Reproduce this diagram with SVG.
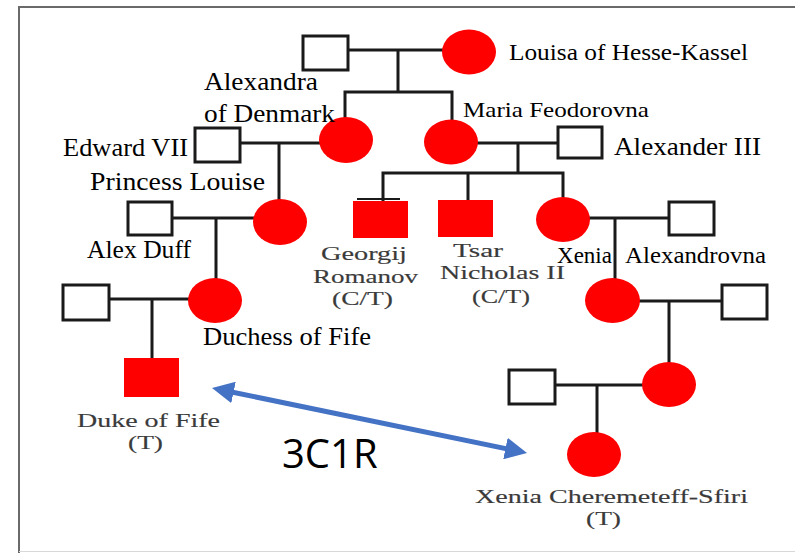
<svg xmlns="http://www.w3.org/2000/svg" width="795" height="553" viewBox="0 0 795 553">
  <defs>
    <style>
      .frame { stroke: #6a6a6a; stroke-width: 2; fill: none; }
      .link { stroke: #1a1a1a; stroke-width: 3; fill: none; stroke-linecap: square; }
      .male { fill: #ffffff; stroke: #1a1a1a; stroke-width: 3; }
      .affected { fill: #ff0000; }
      .name { font-family: "Liberation Serif", "Times New Roman", serif; fill: #000000; }
      .scan { font-family: "Liberation Serif", "Times New Roman", serif; font-size: 19px; fill: #3a3a3a; stroke: #3a3a3a; stroke-width: 0.15; }
      .rel { font-family: "Open Sans", "Liberation Sans", sans-serif; font-size: 40px; fill: #000000; }
      .arrow { stroke: #4472c4; stroke-width: 5; fill: none; }
    </style>
    <marker id="head" markerUnits="userSpaceOnUse" markerWidth="22" markerHeight="22" viewBox="0 0 22 22" refX="7" refY="11" orient="auto-start-reverse">
      <path d="M0,0 L22,11 L0,22 z" fill="#4472c4"/>
    </marker>
  </defs>

  <rect width="795" height="553" fill="#ffffff"/>

  <!-- page frame -->
  <g id="frame">
    <path class="frame" d="M19,553 L19,7 L795,7"/>
    <path d="M19,551.5 L795,551.5" stroke="#d8d8d8" stroke-width="1"/>
  </g>

  <!-- descent and marriage lines -->
  <g id="connectors">
    <path class="link" d="M348,50 L442,50 M398,50 L398,92 M345,92 L452,92 M345,92 L345,118 M452,92 L452,120"/>
    <path class="link" d="M240,143 L319,143 M279,143 L279,200"/>
    <path class="link" d="M172,218 L253,218 M216,218 L216,278"/>
    <path class="link" d="M109,299 L188,299 M152,299 L152,358"/>
    <path class="link" d="M478,143 L558,143 M518,143 L518,173 M383,173 L563,173 M383,173 L383,200 M468,173 L468,200 M563,173 L563,197"/>
    <path class="link" d="M590,218 L669,218 M615,218 L615,279"/>
    <path class="link" d="M640,301 L722,301 M669,301 L669,362"/>
    <path class="link" d="M555,385 L642,385 M597,385 L597,432"/>
  </g>

  <!-- relationship arrow -->
  <g id="relationship">
    <line class="arrow" x1="226.7" y1="391" x2="512.3" y2="450" marker-start="url(#head)" marker-end="url(#head)"/>
    <text class="rel" x="282" y="468">3C1R</text>
  </g>

  <!-- generation I -->
  <g id="christian">
    <rect class="male" x="303" y="36" width="45" height="34"/>
  </g>
  <g id="louisa">
    <ellipse class="affected" cx="469" cy="52" rx="27" ry="22.5"/>
    <text class="name" x="509" y="60" font-size="24" textLength="239" lengthAdjust="spacingAndGlyphs">Louisa of Hesse-Kassel</text>
  </g>

  <!-- generation II -->
  <g id="alexandra">
    <ellipse class="affected" cx="346" cy="140" rx="27" ry="23"/>
    <text class="name" x="204" y="90" font-size="25" textLength="114" lengthAdjust="spacingAndGlyphs">Alexandra</text>
    <text class="name" x="204" y="122" font-size="25" textLength="131" lengthAdjust="spacingAndGlyphs">of Denmark</text>
  </g>
  <g id="edward">
    <rect class="male" x="195" y="128" width="45" height="34"/>
    <text class="name" x="63" y="156" font-size="26" textLength="125" lengthAdjust="spacingAndGlyphs">Edward VII</text>
  </g>
  <g id="maria">
    <ellipse class="affected" cx="451" cy="142" rx="27" ry="22.5"/>
    <text class="name" x="463" y="117" font-size="21" textLength="186" lengthAdjust="spacingAndGlyphs">Maria Feodorovna</text>
  </g>
  <g id="alexander">
    <rect class="male" x="558" y="127" width="44" height="31"/>
    <text class="name" x="614" y="155" font-size="26" textLength="147" lengthAdjust="spacingAndGlyphs">Alexander III</text>
  </g>

  <!-- generation III -->
  <g id="louise">
    <ellipse class="affected" cx="280" cy="222" rx="27" ry="23"/>
    <text class="name" x="90" y="190" font-size="25" textLength="175" lengthAdjust="spacingAndGlyphs">Princess Louise</text>
  </g>
  <g id="duff">
    <rect class="male" x="128" y="202" width="44" height="33"/>
    <text class="name" x="87" y="258" font-size="25" textLength="104" lengthAdjust="spacingAndGlyphs">Alex Duff</text>
  </g>
  <g id="georgij">
    <path d="M357,199 L400,199" stroke="#1a1a1a" stroke-width="2"/>
    <rect class="affected" x="353" y="201" width="55" height="37"/>
    <text class="scan" x="321" y="260" textLength="86" lengthAdjust="spacingAndGlyphs">Georgij</text>
    <text class="scan" x="313" y="283" textLength="105" lengthAdjust="spacingAndGlyphs">Romanov</text>
    <text class="scan" x="332" y="305" textLength="61" lengthAdjust="spacingAndGlyphs">(C/T)</text>
  </g>
  <g id="nicholas">
    <rect class="affected" x="438" y="200" width="55" height="37"/>
    <text class="scan" x="453" y="257" textLength="50" lengthAdjust="spacingAndGlyphs">Tsar</text>
    <text class="scan" x="440" y="279" textLength="125" lengthAdjust="spacingAndGlyphs">Nicholas II</text>
    <text class="scan" x="472" y="303" textLength="58" lengthAdjust="spacingAndGlyphs">(C/T)</text>
  </g>
  <g id="xenia-a">
    <ellipse class="affected" cx="563" cy="219.5" rx="27" ry="22.5"/>
    <text class="name" y="263" font-size="23"><tspan x="557" textLength="55" lengthAdjust="spacingAndGlyphs">Xenia</tspan> <tspan x="625" textLength="141" lengthAdjust="spacingAndGlyphs">Alexandrovna</tspan></text>
  </g>
  <g id="xenia-husband">
    <rect class="male" x="669" y="202" width="45" height="33"/>
  </g>

  <!-- generation IV -->
  <g id="fife-father">
    <rect class="male" x="63" y="285" width="46" height="35"/>
  </g>
  <g id="duchess">
    <ellipse class="affected" cx="215" cy="300.5" rx="27" ry="22.5"/>
    <text class="name" x="203" y="345" font-size="25" textLength="168" lengthAdjust="spacingAndGlyphs">Duchess of Fife</text>
  </g>
  <g id="xenia-daughter">
    <ellipse class="affected" cx="612.5" cy="300.5" rx="27.5" ry="22.5"/>
  </g>
  <g id="daughter-husband">
    <rect class="male" x="722" y="285" width="45" height="34"/>
  </g>

  <!-- generation V -->
  <g id="duke">
    <rect class="affected" x="124" y="358" width="55" height="39"/>
    <text class="scan" x="77" y="427" textLength="143" lengthAdjust="spacingAndGlyphs">Duke of Fife</text>
    <text class="scan" x="128" y="449" textLength="35" lengthAdjust="spacingAndGlyphs">(T)</text>
  </g>
  <g id="granddaughter">
    <ellipse class="affected" cx="669" cy="384.5" rx="27" ry="22.5"/>
  </g>
  <g id="granddaughter-husband">
    <rect class="male" x="509" y="370" width="46" height="34"/>
  </g>

  <!-- generation VI -->
  <g id="xenia-s">
    <ellipse class="affected" cx="594" cy="454.5" rx="27" ry="22.5"/>
    <text class="scan" x="475" y="503" textLength="273" lengthAdjust="spacingAndGlyphs">Xenia Cheremeteff-Sfiri</text>
    <text class="scan" x="586" y="525" textLength="35" lengthAdjust="spacingAndGlyphs">(T)</text>
  </g>
</svg>
